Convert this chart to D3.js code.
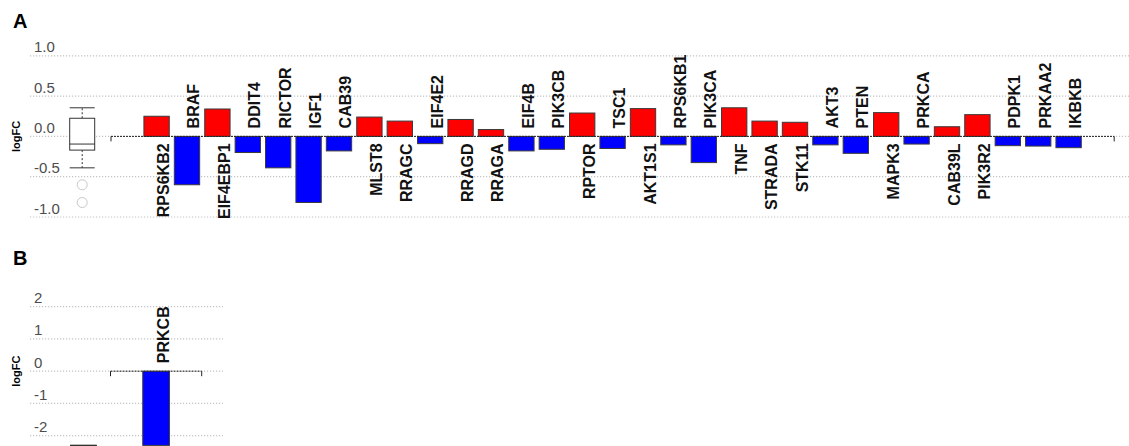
<!DOCTYPE html>
<html>
<head>
<meta charset="utf-8">
<script src="https://cdn.jsdelivr.net/npm/d3@7"></script>
<style>
  html, body { margin: 0; padding: 0; background: #fff; }
  svg { display: block; }
</style>
</head>
<body>
<svg id="chart" width="1129" height="446"></svg>
<script>
// Panel A: mTOR pathway genes, log fold change
const genesA = ["RPS6KB2","BRAF","EIF4EBP1","DDIT4","RICTOR","IGF1","CAB39","MLST8",
  "RRAGC","EIF4E2","RRAGD","RRAGA","EIF4B","PIK3CB","RPTOR","TSC1","AKT1S1","RPS6KB1",
  "PIK3CA","TNF","STRADA","STK11","AKT3","PTEN","MAPK3","PRKCA","CAB39L","PIK3R2",
  "PDPK1","PRKAA2","IKBKB"];
const logFCA = [0.25,-0.60,0.34,-0.20,-0.39,-0.82,-0.18,0.24,
  0.19,-0.09,0.21,0.085,-0.18,-0.16,0.29,-0.15,0.345,-0.105,
  -0.325,0.355,0.19,0.175,-0.105,-0.21,0.295,-0.095,0.12,0.27,
  -0.115,-0.12,-0.14];
const ticksA = [-1.0, -0.5, 0.0, 0.5, 1.0];
const tickLabelsA = ["-1.0", "-0.5", "0.0", "0.5", "1.0"];

// Panel B: single gene
const genesB = ["PRKCB"];
const logFCB = [-2.3];
const ticksB = [-2, -1, 0, 1, 2];
const tickLabelsB = ["-2", "-1", "0", "1", "2"];

const svg = d3.select("#chart");
const FONT = "'Liberation Sans', Arial, Helvetica, sans-serif";

// Tukey five-number summary (as R's fivenum)
function fivenum(values) {
  const x = values.slice().sort(d3.ascending);
  const n = x.length;
  const n4 = Math.floor((n + 3) / 2) / 2;
  const idx = [1, n4, (n + 1) / 2, n + 1 - n4, n];
  return idx.map(i => 0.5 * (x[Math.floor(i) - 1] + x[Math.ceil(i) - 1]));
}

function drawPanel(cfg) {
  const g = svg.append("g");
  const y = d3.scaleLinear().domain(cfg.yDomain).range(cfg.yRange);
  const x = d3.scaleBand()
    .domain(cfg.genes)
    .range(cfg.xRange)
    .paddingInner(1 / 6)
    .paddingOuter(cfg.outerPad);

  // panel letter
  g.append("text")
    .attr("x", 13).attr("y", cfg.letterY)
    .attr("font-family", FONT).attr("font-weight", "bold").attr("font-size", 20)
    .attr("fill", "#000")
    .text(cfg.letter);

  // dotted grid
  g.selectAll("line.grid").data(cfg.ticks).join("line")
    .attr("class", "grid")
    .attr("x1", 30).attr("x2", cfg.gridEnd)
    .attr("y1", d => y(d)).attr("y2", d => y(d))
    .attr("stroke", "#c4c4c4").attr("stroke-width", 1.2)
    .attr("stroke-dasharray", "1.2,1.8");

  // tick labels sit just above their grid line
  g.selectAll("text.tick").data(cfg.ticks).join("text")
    .attr("class", "tick")
    .attr("x", 34).attr("y", d => y(d) - 3.5)
    .attr("font-family", FONT).attr("font-size", 15)
    .attr("fill", "#4d4d4d")
    .text((d, i) => cfg.tickLabels[i]);

  // axis title
  g.append("text")
    .attr("transform", `translate(20,${y(0)}) rotate(-90)`)
    .attr("text-anchor", "middle")
    .attr("font-family", FONT).attr("font-weight", "bold").attr("font-size", 11)
    .attr("fill", "#000")
    .text("logFC");

  // boxplot of the panel's values (whiskers at 1 x IQR)
  const [mn, q1, med, q3, mx] = fivenum(cfg.values);
  const iqr = q3 - q1;
  const inside = cfg.values.filter(v => v >= q1 - iqr && v <= q3 + iqr);
  const wLo = d3.min(inside), wHi = d3.max(inside);
  const outliers = cfg.values.filter(v => v < q1 - iqr || v > q3 + iqr);
  const bx0 = cfg.boxX[0], bx1 = cfg.boxX[1], bxc = (bx0 + bx1) / 2;
  const box = g.append("g").attr("stroke", "#333").attr("fill", "none").attr("stroke-width", 1);
  box.append("line").attr("x1", bxc).attr("x2", bxc).attr("y1", y(q3)).attr("y2", y(wHi))
    .attr("stroke-dasharray", "2,2");
  box.append("line").attr("x1", bxc).attr("x2", bxc).attr("y1", y(q1)).attr("y2", y(wLo))
    .attr("stroke-dasharray", "2,2");
  box.append("line").attr("x1", bx0).attr("x2", bx1).attr("y1", y(wHi)).attr("y2", y(wHi));
  box.append("line").attr("x1", bx0).attr("x2", bx1).attr("y1", y(wLo)).attr("y2", y(wLo));
  box.append("rect").attr("x", bx0).attr("width", bx1 - bx0)
    .attr("y", y(q3)).attr("height", Math.max(0, y(q1) - y(q3))).attr("fill", "#fff");
  box.append("line").attr("x1", bx0).attr("x2", bx1).attr("y1", y(med)).attr("y2", y(med));
  g.selectAll("circle.out").data(outliers).join("circle")
    .attr("class", "out")
    .attr("cx", bxc).attr("cy", d => y(d)).attr("r", 5)
    .attr("fill", "none").attr("stroke", "#c8c8c8").attr("stroke-width", 1);

  // bars
  const data = cfg.genes.map((gene, i) => ({ gene, v: cfg.values[i] }));
  g.selectAll("rect.bar").data(data).join("rect")
    .attr("class", "bar")
    .attr("x", d => x(d.gene))
    .attr("width", x.bandwidth())
    .attr("y", d => y(Math.max(0, d.v)))
    .attr("height", d => Math.abs(y(d.v) - y(0)))
    .attr("fill", d => d.v >= 0 ? "#ff0000" : "#0000ff")
    .attr("stroke", "#3a3a3a").attr("stroke-width", 1);

  // dashed zero baseline with end ticks
  const [r0, r1] = x.range();
  g.append("line").attr("x1", r0).attr("x2", r1).attr("y1", y(0)).attr("y2", y(0))
    .attr("stroke", "#222").attr("stroke-width", 1).attr("stroke-dasharray", "2,1");
  [r0, r1].forEach(px => {
    g.append("line").attr("x1", px).attr("x2", px).attr("y1", y(0)).attr("y2", y(0) + 5)
      .attr("stroke", "#222").attr("stroke-width", 1);
  });

  // gene names: below zero for up-regulated, above zero for down-regulated
  g.selectAll("text.gene").data(data).join("text")
    .attr("class", "gene")
    .attr("transform", d => {
      const cx = x(d.gene) + x.bandwidth() / 2 + 12.5;
      const ty = d.v >= 0 ? y(0) + 7 : y(0) - 8;
      return `translate(${cx},${ty}) rotate(-90)`;
    })
    .attr("text-anchor", d => d.v >= 0 ? "end" : "start")
    .attr("font-family", FONT).attr("font-weight", "bold").attr("font-size", 16)
    .attr("fill", "#111")
    .text(d => d.gene);
}

drawPanel({
  letter: "A", letterY: 28,
  genes: genesA, values: logFCA,
  ticks: ticksA, tickLabels: tickLabelsA,
  yDomain: [-1, 1], yRange: [217, 55.8],
  xRange: [111, 1114.2], outerPad: 1.083,
  gridEnd: 1129, boxX: [69.7, 94.7]
});

drawPanel({
  letter: "B", letterY: 265,
  genes: genesB, values: logFCB,
  ticks: ticksB, tickLabels: tickLabelsB,
  yDomain: [-2, 2], yRange: [435.7, 306.7],
  xRange: [110.5, 201.7], outerPad: 1.008,
  gridEnd: 223, boxX: [70, 96.7]
});
</script>
</body>
</html>
